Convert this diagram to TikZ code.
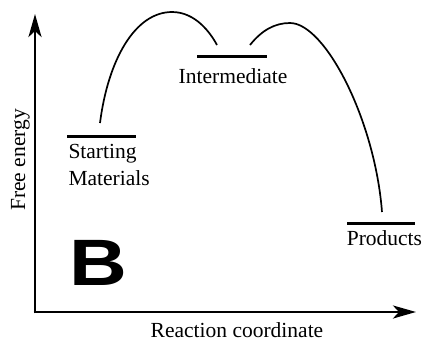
\documentclass[tikz,border=0pt]{standalone}
\usepackage{fontspec}
\setmainfont{Liberation Serif}
\newfontfamily\bfont{Liberation Sans}
\usetikzlibrary{arrows.meta}
\begin{document}
\begin{tikzpicture}[x=1pt,y=-1pt,
  axis/.style={line width=2.8pt,-{Stealth[length=23pt,width=13pt,inset=6pt]}},
  level/.style={line width=3pt},
  curve/.style={line width=1.7pt},
  lbl/.style={inner sep=0pt,font=\fontsize{21.5}{27}\selectfont}]
\useasboundingbox (0,0) rectangle (424,343);
% axes
\coordinate (O) at (33.6,312);
\coordinate (Ytop) at (35,14);
\coordinate (Xend) at (416,312);
\draw[axis] (35,313.4) -- (Ytop);
\draw[axis] (O) -- (Xend);
% levels
\coordinate (s1) at (67,136);  \coordinate (s2) at (136,136);
\coordinate (i1) at (197,56);  \coordinate (i2) at (267,56);
\coordinate (p1) at (347,223); \coordinate (p2) at (415,223);
\draw[level] (s1) -- (s2);
\draw[level] (i1) -- (i2);
\draw[level] (p1) -- (p2);
% labels
\node[lbl,anchor=base west,align=left] (start) at (68.3,185) {Starting\\Materials};
\node[lbl,anchor=base west] (inter) at (178.5,83) {Intermediate};
\node[lbl,anchor=base west] (prod) at (346.6,245) {Products};
\node[lbl,anchor=base,rotate=90] (yl) at (25,160) {Free energy};
\node[lbl,anchor=base] (xl) at (237,337) {Reaction coordinate};
\node[inner sep=0pt,anchor=base west,font=\bfont\bfseries\fontsize{65.6}{70}\selectfont,xscale=1.22] (B) at (69,285) {B};
% curves
\coordinate (c1a) at (100,123);
\coordinate (c1p) at (172,12);
\coordinate (c1e) at (217,45);
\coordinate (c2a) at (250,45);
\coordinate (c2p) at (290,23);
\coordinate (c2e) at (382,212);
\draw[curve] (c1a) .. controls (108,60) and (135,12) .. (c1p)
  .. controls (195,12) and (210,32) .. (c1e);
\draw[curve] (c2a) .. controls (262,30) and (275,23) .. (c2p)
  .. controls (325,23) and (375,120) .. (c2e);
\end{tikzpicture}
\end{document}
